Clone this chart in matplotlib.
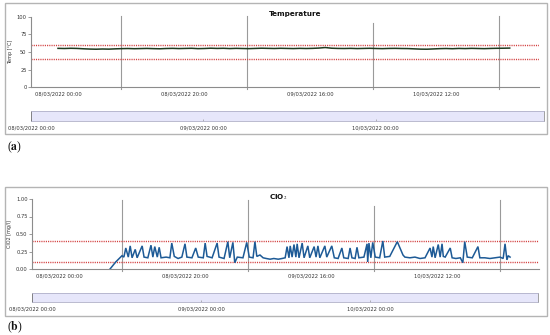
import numpy as np
import matplotlib
matplotlib.use('Agg')
import matplotlib.pyplot as plt
from matplotlib.patches import Rectangle

plt.rcParams['font.family'] = ['DejaVu Sans']
plt.rcParams['mathtext.fontset'] = 'stix'

W, H = 550, 335

# ---------------- data ----------------
temp_values = [55.2, 55.0, 55.3, 55.1, 54.6, 54.2, 54.0, 54.3, 54.1, 54.5, 54.8, 55.0,
               54.7, 54.9, 55.1, 54.8, 54.6, 55.0, 55.2, 54.9, 55.1, 55.3, 54.8, 55.0,
               55.4, 55.1, 55.3, 54.9, 55.2, 55.0, 54.8, 55.1, 55.4, 55.2, 55.0, 55.3,
               55.1, 54.9, 55.2, 55.0, 55.2, 55.6, 56.4, 55.4, 55.1, 55.0, 55.2, 54.9,
               55.1, 55.3, 55.0, 54.8, 55.1, 55.2, 55.0, 54.9, 54.5, 54.1, 54.0, 54.4,
               54.8, 55.0, 54.7, 55.1, 54.9, 55.2, 55.0, 54.8, 55.1, 55.3, 55.4, 55.6]
temp_hours = np.linspace(0, 71.7, len(temp_values))

clo2_hours = [8.1, 9.0, 10.0, 10.3, 10.6, 11.0, 11.3, 11.6, 12.1, 12.4, 13.2, 13.5, 14.1,
              14.6, 14.9, 15.2, 15.6, 15.9, 16.2, 17.0, 17.6, 17.9, 18.3, 18.9, 19.5, 20.0,
              20.3, 21.1, 21.7, 22.1, 22.9, 23.2, 23.5, 24.3, 25.1, 25.4, 26.2, 26.8, 27.1,
              27.6, 27.9, 28.3, 29.2, 29.8, 30.2, 30.8, 31.1, 31.4, 31.9, 32.4, 32.9, 33.5,
              34.1, 34.8, 35.4, 35.9, 36.2, 36.5, 36.7, 37.0, 37.3, 37.6, 37.8, 38.1, 38.6,
              38.9, 39.5, 39.8, 40.5, 40.8, 41.1, 41.4, 42.2, 42.5, 43.3, 43.7, 44.3, 44.9,
              45.2, 45.9, 46.2, 46.5, 47.0, 47.3, 47.6, 48.4, 48.9, 49.0, 49.2, 49.5, 49.8,
              50.2, 50.9, 51.4, 51.7, 52.5, 53.7, 54.6, 54.9, 55.7, 56.5, 57.3, 58.1, 58.9,
              59.2, 59.4, 59.7, 60.2, 60.5, 60.8, 61.0, 61.3, 62.1, 62.4, 63.0, 63.7, 64.1,
              64.4, 64.8, 65.6, 66.5, 66.8, 67.6, 68.4, 69.2, 70.0, 70.5, 70.8, 71.1, 71.3,
              71.6]
clo2_values = [0.00, 0.10, 0.19, 0.17, 0.30, 0.17, 0.33, 0.16, 0.28, 0.16, 0.33, 0.17, 0.16,
               0.34, 0.17, 0.32, 0.17, 0.31, 0.16, 0.17, 0.16, 0.37, 0.18, 0.15, 0.17, 0.36,
               0.17, 0.16, 0.30, 0.17, 0.16, 0.37, 0.18, 0.16, 0.37, 0.17, 0.15, 0.39, 0.16,
               0.38, 0.09, 0.17, 0.16, 0.38, 0.17, 0.16, 0.39, 0.18, 0.20, 0.16, 0.15, 0.14,
               0.15, 0.14, 0.15, 0.16, 0.32, 0.16, 0.33, 0.17, 0.35, 0.17, 0.36, 0.16, 0.37,
               0.16, 0.33, 0.16, 0.32, 0.17, 0.33, 0.16, 0.33, 0.17, 0.33, 0.16, 0.15, 0.30,
               0.16, 0.15, 0.30, 0.16, 0.15, 0.31, 0.16, 0.17, 0.36, 0.10, 0.37, 0.16, 0.38,
               0.17, 0.16, 0.40, 0.17, 0.18, 0.39, 0.20, 0.17, 0.16, 0.17, 0.15, 0.16, 0.30,
               0.17, 0.32, 0.16, 0.35, 0.17, 0.36, 0.18, 0.17, 0.30, 0.16, 0.15, 0.16, 0.09,
               0.39, 0.17, 0.16, 0.32, 0.16, 0.16, 0.15, 0.16, 0.17, 0.15, 0.36, 0.13, 0.19,
               0.17]

main_tick_hours = [0, 20, 40, 60]
main_tick_labels = ["08/03/2022 00:00", "08/03/2022 20:00",
                    "09/03/2022 16:00", "10/03/2022 12:00"]
nav_tick_hours = [0, 24, 48]
nav_tick_labels = ["08/03/2022 00:00", "09/03/2022 00:00", "10/03/2022 00:00"]
grid_hours = [10, 30, 50, 70]
temp_limits = [60, 40]
clo2_limits = [0.4, 0.1]
temp_yticks = [0, 25, 50, 75, 100]
clo2_yticks = [0.0, 0.25, 0.5, 0.75, 1.0]


def frac(x0, y0, x1, y1):
    return [x0 / W, 1 - y1 / H, (x1 - x0) / W, (y1 - y0) / H]


fig = plt.figure(figsize=(W / 100, H / 100), dpi=100)

TICK_FS = 3.7
GRAY = '#8c8c8c'


def panel(box, ax_px, nav_px, xlim, nav_xlim, ylim, yticks, yfmt, ylabel, title,
          title_xy, limits, xs, ys, color, lw, grid_tops, grid_bottom, letter, letter_xy):
    bx0, by0, bx1, by1 = box
    fig.add_artist(Rectangle((bx0 / W, 1 - by1 / H), (bx1 - bx0) / W, (by1 - by0) / H,
                             transform=fig.transFigure, fill=False, ec='#b4b4b4', lw=1.0))
    ax = fig.add_axes(frac(*ax_px))
    ax.set_xlim(*xlim)
    ax.set_ylim(*ylim)
    for s in ['top', 'right']:
        ax.spines[s].set_visible(False)
    for s in ['left', 'bottom']:
        ax.spines[s].set_color(GRAY)
        ax.spines[s].set_linewidth(0.8)
    ax.set_yticks(yticks)
    ax.set_yticklabels([yfmt.format(v) for v in yticks])
    ax.tick_params(axis='y', length=2, width=0.6, color=GRAY, labelsize=TICK_FS,
                   pad=1.2, labelcolor='#333333')
    ax.set_xticks(main_tick_hours)
    ax.set_xticklabels(main_tick_labels)
    ax.tick_params(axis='x', length=0, labelsize=TICK_FS, pad=3.2, labelcolor='#333333')
    ax.set_ylabel(ylabel, fontsize=3.5, color='#333333', labelpad=2.5)
    for h, top in zip(grid_hours, grid_tops):
        ax.axvline(h, ymin=grid_bottom, ymax=top, color='#9a9a9a', lw=0.8, clip_on=False,
                   zorder=1)
    for lv in limits:
        ax.axhline(lv, color='#d23c3c', lw=1.0, ls=(0, (0.8, 0.8)), zorder=2)
    ax.plot(xs, ys, color=color, lw=lw, zorder=3, solid_joinstyle='miter')
    fig.text(title_xy[0] / W, 1 - title_xy[1] / H, title, fontsize=5.2, fontweight='bold',
             ha='left', va='center', color='#111111')

    nav = fig.add_axes(frac(*nav_px))
    nav.set_facecolor('#e6e6fa')
    nav.set_xlim(*nav_xlim)
    nav.set_ylim(0, 1)
    nav.set_yticks([])
    for s in nav.spines.values():
        s.set_color('#b0b0c8')
        s.set_linewidth(0.6)
    nav.spines['left'].set_color('#707070')
    nav.spines['right'].set_color('#909090')
    nav.set_xticks(nav_tick_hours)
    nav.set_xticklabels(nav_tick_labels)
    nav.tick_params(axis='x', length=1.5, width=0.5, color='#999999', direction='in',
                    labelsize=TICK_FS, pad=3.0, labelcolor='#333333')
    fig.text(letter_xy[0] / W, 1 - letter_xy[1] / H, letter, fontsize=8.5,
             family='Liberation Serif', ha='left', va='center', color='#111111')
    return ax


panel(box=(5, 3, 547, 134), ax_px=(31, 17, 539, 87), nav_px=(31, 111, 544, 121),
      xlim=((31 - 58) / 6.3, (539 - 58) / 6.3), nav_xlim=(0, (544 - 31) / 7.18),
      ylim=(0, 100), yticks=temp_yticks, yfmt='{:.0f}', ylabel='Temp [°C]',
      title='Temperature', title_xy=(269, 14), limits=temp_limits,
      xs=temp_hours, ys=temp_values, color='#1e3a1e', lw=1.1,
      grid_tops=[1.014, 1.014, 0.914, 1.014], grid_bottom=-0.029,
      letter=r'($\mathbf{a}$)', letter_xy=(7, 147))

panel(box=(5, 187, 547, 316), ax_px=(32, 199, 539, 269), nav_px=(32, 293, 538, 302),
      xlim=((32 - 59) / 6.3, (539 - 59) / 6.3), nav_xlim=(0, (538 - 32) / 7.04),
      ylim=(0, 1), yticks=clo2_yticks, yfmt='{:.2f}', ylabel='ClO2 [mg/l]',
      title=r'ClO$_2$', title_xy=(269, 197), limits=clo2_limits,
      xs=clo2_hours, ys=clo2_values, color='#1d5a96', lw=1.1,
      grid_tops=[0.986, 0.986, 0.9, 0.986], grid_bottom=-0.029,
      letter=r'($\mathbf{b}$)', letter_xy=(7, 327))

fig.savefig('out.png', dpi=100)
